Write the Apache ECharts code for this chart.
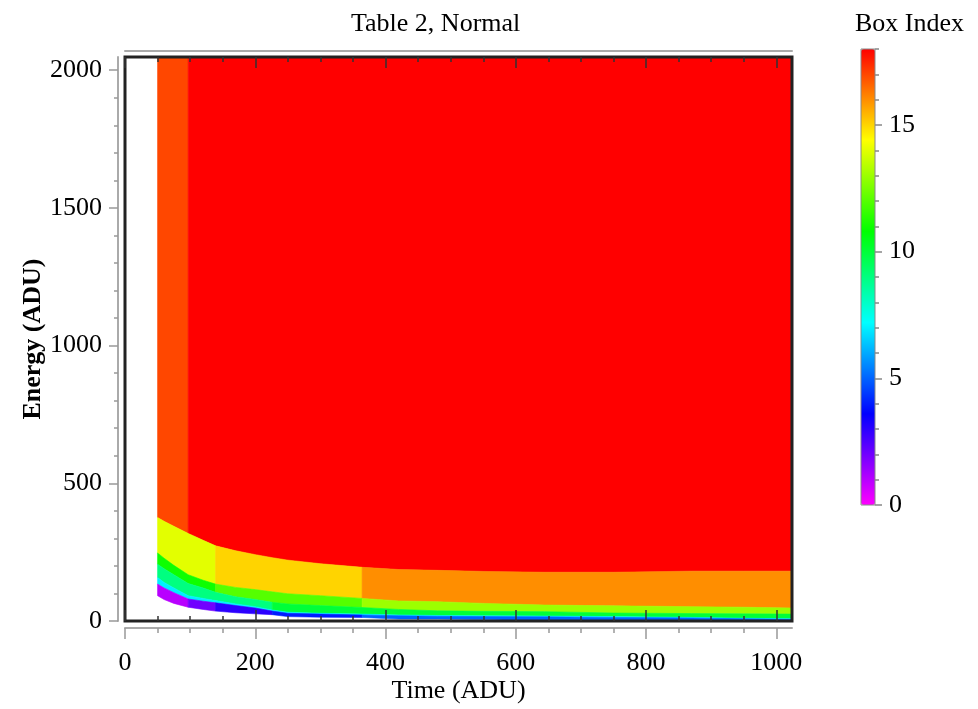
<!DOCTYPE html>
<html>
<head>
<meta charset="utf-8">
<script src="https://cdn.jsdelivr.net/npm/echarts@6/dist/echarts.min.js"></script>
<style>
html,body{margin:0;padding:0;background:#fff;}
#chart{width:978px;height:709px;}
</style>
</head>
<body>
<div id="chart"></div>
<script>
// ---- data ----
// time sample points (ADU) at which the box-boundary energies were read
const timeSamples = [50, 60, 75, 97, 120, 139, 170, 200, 226, 250, 300, 364, 420, 480, 550, 644, 750, 870, 950, 1024];
// boundary energies (ADU) at each time sample, bottom to top
const edgeBottom = [92, 78, 64, 50, 42, 36, 30, 26, 23, 16, 14, 13, 7, 7, 5, 0, 0, 0, 0, 0];
const edge1 = [134, 120, 103, 80, 72, 66, 56, 47, 36, 28, 25, 22, 19, 17, 16, 15, 13, 11, 8, 6];
const edge2 = [158, 140, 120, 92, 82, 74, 62, 52, 40, 32, 28, 25, 22, 20, 19, 18, 16, 13, 10, 8];
const edge3 = [206, 190, 168, 136, 120, 104, 88, 78, 68, 62, 56, 49, 42, 37, 35, 34, 29, 27, 26, 25];
const edge4 = [247, 228, 202, 168, 148, 134, 122, 114, 106, 99, 92, 82, 73, 70, 64, 58, 55, 52, 50, 47];
const edge5 = [376, 362, 344, 318, 293, 273, 255, 241, 230, 221, 208, 195, 187, 184, 180, 177, 177, 181, 181, 181];
const energyMax = 2048;
const timeMax = 1024;
// boxes: [timeStart, timeEnd, lowerEdge, upperEdge (6 = top of plot), box index]
const boxes = [
  [50, 97, 5, 6, 17], [97, 1024, 5, 6, 18],
  [50, 139, 4, 5, 14], [139, 364, 4, 5, 15], [364, 1024, 4, 5, 16],
  [50, 139, 3, 4, 11], [139, 364, 3, 4, 12], [364, 1024, 3, 4, 13],
  [50, 226, 2, 3, 9], [226, 1024, 2, 3, 10],
  [50, 1024, 1, 2, 7],
  [50, 97, 0, 1, 1], [97, 139, 0, 1, 2], [139, 226, 0, 1, 3], [226, 364, 0, 1, 4], [364, 1024, 0, 1, 5]
];
// tick values
const xMajorTicks = [0, 200, 400, 600, 800, 1000];
const xMinorTicks = [0, 50, 100, 150, 200, 250, 300, 350, 400, 450, 500, 550, 600, 650, 700, 750, 800, 850, 900, 950, 1000];
const yMajorTicks = [0, 500, 1000, 1500, 2000];
const yMinorTicks = [0, 100, 200, 300, 400, 500, 600, 700, 800, 900, 1000, 1100, 1200, 1300, 1400, 1500, 1600, 1700, 1800, 1900, 2000];
const cbMajorTicks = [0, 5, 10, 15];
const cbMinorTicks = [0, 1, 2, 3, 4, 5, 6, 7, 8, 9, 10, 11, 12, 13, 14, 15, 16, 17, 18];
const boxMin = 0, boxMax = 18;
const rainbow = ['#ff00ff', '#0000ff', '#00ffff', '#00ff00', '#ffff00', '#ff0000'];

const edges = [edgeBottom, edge1, edge2, edge3, edge4, edge5];
const FONT = 'Liberation Serif';
const plain = v => String(v);

function renderBox(params, api) {
  const t0 = api.value(0), t1 = api.value(1);
  const lo = api.value(2), up = api.value(3);
  const i0 = timeSamples.indexOf(t0), i1 = timeSamples.indexOf(t1);
  const pts = [];
  for (let i = i0; i <= i1; i++) {
    const e = up >= edges.length ? energyMax : edges[up][i];
    pts.push(api.coord([timeSamples[i], e]));
  }
  for (let i = i1; i >= i0; i--) {
    pts.push(api.coord([timeSamples[i], edges[lo][i]]));
  }
  const c = api.visual('color');
  return {type: 'polygon', shape: {points: pts}, style: {fill: c, stroke: c, lineWidth: 0.6}};
}

function xAx(o) {
  return Object.assign({
    type: 'value', gridIndex: 0, min: 0, max: timeMax, position: 'bottom', offset: 0, z: 10,
    axisLine: {show: false, onZero: false}, splitLine: {show: false}, axisLabel: {show: false},
    axisTick: {show: false}
  }, o);
}
function yAx(o) {
  return Object.assign({
    type: 'value', gridIndex: 0, min: 0, max: energyMax, position: 'left', offset: 0, z: 10,
    axisLine: {show: false, onZero: false}, splitLine: {show: false}, axisLabel: {show: false},
    axisTick: {show: false}
  }, o);
}
const grayLine = {show: true, onZero: false, lineStyle: {color: '#aaa', width: 2}};

const option = {
  backgroundColor: '#fff',
  animation: false,
  title: [
    {text: 'Table 2, Normal', left: 346, top: 6, textStyle: {fontFamily: FONT, fontSize: 26, fontWeight: 'normal', color: '#000'}},
    {text: 'Box Index', left: 850, top: 6, textStyle: {fontFamily: FONT, fontSize: 26, fontWeight: 'normal', color: '#000'}}
  ],
  grid: [
    {left: 125, top: 57, width: 667, height: 565, show: true, borderColor: '#222', borderWidth: 3, backgroundColor: 'transparent', z: 10},
    {left: 861, top: 49, width: 14, height: 456, show: true, borderColor: '#888', borderWidth: 1, backgroundColor: 'transparent', z: 10}
  ],
  xAxis: [
    xAx({offset: 7, axisLine: grayLine,
      axisTick: {show: true, customValues: xMajorTicks, length: 11, lineStyle: {color: '#999', width: 1.5}},
      axisLabel: {show: true, customValues: xMajorTicks, formatter: plain, margin: 22, fontFamily: FONT, fontSize: 26, color: '#000'},
      name: 'Time (ADU)', nameLocation: 'middle', nameGap: 50, nameMoveOverlap: false,
      nameTextStyle: {fontFamily: FONT, fontSize: 26, color: '#000'}}),
    xAx({offset: 7, axisTick: {show: true, customValues: xMinorTicks, length: 5, lineStyle: {color: '#999', width: 1.5}}}),
    xAx({axisTick: {show: true, inside: true, customValues: xMajorTicks, length: 11, lineStyle: {color: '#333', width: 1.5}}}),
    xAx({axisTick: {show: true, inside: true, customValues: xMinorTicks, length: 5, lineStyle: {color: '#333', width: 1.5}}}),
    xAx({position: 'top', axisTick: {show: true, inside: true, customValues: xMajorTicks, length: 11, lineStyle: {color: '#333', width: 1.5}}}),
    xAx({position: 'top', axisTick: {show: true, inside: true, customValues: xMinorTicks, length: 5, lineStyle: {color: '#333', width: 1.5}}}),
    xAx({position: 'top', offset: 6, axisLine: grayLine}),
    {type: 'value', gridIndex: 1, min: 0, max: 1, show: false}
  ],
  yAxis: [
    yAx({offset: 7, axisLine: grayLine,
      axisTick: {show: true, customValues: yMajorTicks, length: 9, lineStyle: {color: '#999', width: 1.5}},
      axisLabel: {show: true, customValues: yMajorTicks, formatter: plain, margin: 16, fontFamily: FONT, fontSize: 26, color: '#000'},
      name: 'Energy (ADU)', nameLocation: 'middle', nameGap: 72, nameMoveOverlap: false,
      nameTextStyle: {fontFamily: FONT, fontSize: 26, color: '#000', fontWeight: 'bold'}}),
    yAx({offset: 7, axisTick: {show: true, customValues: yMinorTicks, length: 4, lineStyle: {color: '#999', width: 1.5}}}),
    {type: 'value', gridIndex: 1, min: boxMin, max: boxMax, position: 'right', z: 10,
      axisLine: {show: false, onZero: false}, splitLine: {show: false},
      axisTick: {show: true, customValues: cbMajorTicks, length: 7, lineStyle: {color: '#888', width: 1.5}},
      axisLabel: {show: true, customValues: cbMajorTicks, formatter: plain, margin: 14, fontFamily: FONT, fontSize: 26, color: '#000'}},
    {type: 'value', gridIndex: 1, min: boxMin, max: boxMax, position: 'right', z: 10,
      axisLine: {show: false, onZero: false}, splitLine: {show: false}, axisLabel: {show: false},
      axisTick: {show: true, customValues: cbMinorTicks, length: 4, lineStyle: {color: '#888', width: 1.5}}}
  ],
  visualMap: {
    type: 'continuous', min: boxMin, max: boxMax, dimension: 4, seriesIndex: 0,
    left: 861, top: 49, itemWidth: 14, itemHeight: 456, padding: 0,
    calculable: false, hoverLink: false, showLabel: false,
    inRange: {color: rainbow}
  },
  series: [{
    type: 'custom', xAxisIndex: 0, yAxisIndex: 0, z: 2,
    renderItem: renderBox,
    encode: {x: [0, 1], y: 2},
    data: boxes
  }]
};
const chart = echarts.init(document.getElementById('chart'), null, {renderer: 'canvas'});
chart.setOption(option);
</script>
</body>
</html>
